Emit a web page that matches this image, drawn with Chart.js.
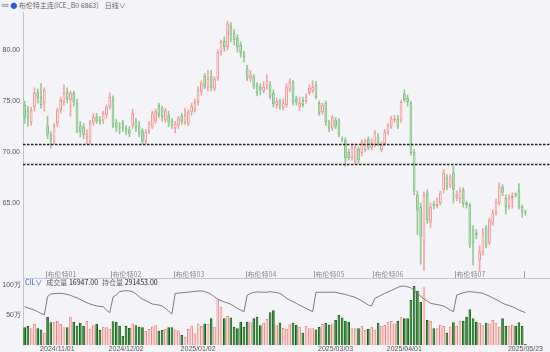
<!DOCTYPE html>
<html>
<head>
<meta charset="utf-8">
<script src="https://cdn.jsdelivr.net/npm/chart.js@4.4.1/dist/chart.umd.min.js"></script>
<style>
  body { margin: 0; width: 550px; height: 352px; overflow: hidden; position: relative;
         background: #f4f4f8; font-family: "Noto Sans CJK SC", sans-serif; }
  #head { position: absolute; left: 0; top: 0; width: 550px; height: 11px; line-height: 11px;
          font-size: 7px; color: #666; white-space: nowrap; }
  #head .dot { color: #2a5bd7; }
  #price { position: absolute; left: 0; top: 12px; }
  #vol { position: absolute; left: 0; top: 278px; }
  #sep { position: absolute; left: 23px; top: 278px; width: 527px; height: 1px; background: #c6c6ce; }
  #volLegend { position: absolute; left: 25px; top: 278px; height: 9px; line-height: 9px;
               font-size: 7px; color: #666; white-space: nowrap; }
  #volLegend .ind { color: #2a5bd7; margin-right: 4px; }
  #volLegend b { color: #222; font-weight: normal; margin-right: 4px; }
</style>
</head>
<body>
<div id="head">&nbsp;∞ <span class="dot">●</span> 布伦特主连(ICE_B0 6863)&nbsp;&nbsp;&nbsp; 日线∨</div>
<canvas id="price" width="550" height="266"></canvas>
<canvas id="vol" width="550" height="74"></canvas>
<div id="sep"></div>
<div id="volLegend"><span class="ind">CIL∨</span>成交量 <b id="vVal"></b>持仓量 <b id="oVal"></b></div>
<script>
// 布伦特主连 日线: OHLC, 成交量 / 持仓量 (万)

const holidays = ['2025/01/01', '2025/04/18'];
const emptySlots = 7;

const open = [
  74.6, 74.1, 72.9, 74.4, 75.9, 75.4, 74.8, 72.6, 71.7, 71.0,
  72.8, 74.1, 74.9, 75.9, 75.1, 75.8, 74.8, 72.6, 72.5, 71.4,
  71.0, 72.9, 73.5, 73.2, 73.1, 73.6, 74.4, 75.2, 72.9, 72.4,
  72.9, 72.4, 72.2, 72.6, 73.0, 72.6, 72.1, 71.0, 72.0, 72.5,
  73.0, 74.6, 74.3, 73.1, 73.6, 73.1, 72.3, 72.6, 73.6, 72.9,
  72.8, 73.9, 74.1, 74.9, 75.9, 77.5, 76.3, 77.4, 76.2, 77.2,
  79.8, 80.9, 80.3, 82.4, 81.7, 81.2, 80.5, 79.7, 78.2, 77.2,
  77.4, 76.6, 76.4, 76.0, 76.5, 76.6, 75.8, 74.6, 75.0, 74.3,
  74.6, 76.1, 76.9, 75.2, 74.4, 75.1, 75.0, 75.8, 76.0, 76.6,
  74.8, 73.9, 74.8, 72.9, 72.3, 73.2, 73.1, 71.3, 71.2, 70.0,
  69.4, 69.0, 70.3, 69.9, 70.2, 71.3, 70.4, 70.7, 71.5, 70.2,
  70.8, 71.9, 72.5, 73.1, 73.3, 73.1, 75.7, 75.3, 74.8, 70.0,
  65.8, 64.6, 61.2, 66.0, 63.1, 64.9, 64.7, 65.0, 66.3, 67.5,
  66.8, 68.0, 65.5, 65.4, 66.3, 65.0, 64.8, 62.4, 62.1, 59.4,
  60.2, 62.6, 61.1, 63.0, 64.0, 65.0, 66.6, 65.5, 64.6, 65.5,
  65.9, 66.3, 64.6, 64.1
];
const high = [
  75.0, 74.5, 74.4, 76.3, 76.2, 76.7, 76.3, 73.5, 72.0, 72.8,
  74.3, 75.4, 76.6, 76.3, 76.0, 76.0, 75.2, 73.0, 72.8, 72.2,
  73.1, 73.8, 73.8, 73.5, 74.0, 74.6, 75.8, 75.5, 73.2, 72.9,
  73.1, 72.6, 72.5, 74.2, 73.3, 73.0, 72.3, 72.2, 73.0, 74.0,
  74.2, 74.8, 74.5, 74.3, 74.0, 73.3, 73.0, 73.5, 73.8, 74.3,
  74.1, 74.8, 75.2, 76.4, 77.0, 77.7, 78.0, 78.0, 77.4, 80.0,
  81.0, 81.3, 82.8, 82.7, 82.0, 81.5, 80.8, 79.9, 78.5, 78.0,
  77.6, 76.8, 76.7, 76.9, 77.6, 76.9, 76.1, 75.3, 75.2, 75.2,
  76.7, 77.2, 77.0, 75.5, 75.4, 75.4, 75.7, 76.6, 77.0, 76.9,
  75.0, 74.8, 75.0, 73.1, 73.6, 73.4, 73.3, 71.5, 71.4, 70.3,
  70.8, 70.8, 70.5, 71.2, 71.3, 71.5, 71.3, 72.1, 71.8, 71.0,
  72.2, 72.8, 73.5, 73.6, 73.6, 75.1, 76.1, 75.6, 75.0, 70.3,
  66.2, 65.0, 66.1, 66.3, 65.0, 65.2, 65.5, 66.2, 68.3, 67.8,
  67.8, 68.6, 66.2, 66.5, 66.5, 65.2, 65.0, 62.8, 62.4, 60.8,
  62.5, 62.8, 63.5, 64.3, 65.4, 67.0, 66.8, 65.8, 65.8, 66.0,
  66.0, 66.9, 64.8, 64.3
];
const low = [
  72.8, 72.5, 72.6, 74.0, 74.8, 74.3, 74.0, 71.3, 70.4, 70.8,
  72.5, 73.8, 74.6, 74.8, 73.5, 74.5, 71.9, 71.5, 71.3, 70.8,
  70.8, 72.6, 72.8, 72.7, 72.8, 73.3, 74.2, 72.4, 72.0, 71.8,
  72.0, 71.7, 71.5, 72.3, 72.0, 71.5, 70.8, 70.8, 71.8, 72.3,
  72.8, 73.4, 73.0, 72.9, 72.5, 72.3, 71.9, 72.3, 72.7, 72.7,
  72.6, 73.6, 73.9, 74.6, 75.6, 76.2, 76.0, 76.0, 76.0, 77.0,
  79.5, 79.9, 80.0, 80.8, 80.5, 79.8, 79.3, 78.8, 77.0, 76.9,
  76.2, 75.5, 75.6, 75.8, 76.2, 75.2, 74.4, 74.3, 74.2, 74.1,
  74.4, 75.9, 74.6, 74.6, 74.1, 74.4, 74.8, 75.6, 75.8, 75.2,
  73.6, 73.7, 72.6, 72.0, 72.1, 72.3, 71.5, 71.0, 68.6, 69.2,
  69.2, 68.8, 68.9, 69.6, 70.0, 70.2, 70.2, 70.5, 70.6, 70.0,
  70.6, 71.7, 72.3, 72.9, 72.3, 72.9, 74.9, 74.5, 69.7, 65.8,
  61.9, 59.0, 58.4, 63.0, 62.6, 64.4, 64.5, 64.8, 66.0, 66.3,
  66.5, 65.0, 65.2, 65.0, 64.6, 64.5, 60.6, 58.9, 61.5, 58.4,
  59.9, 60.6, 60.9, 62.8, 63.8, 64.8, 65.7, 63.9, 64.4, 64.5,
  65.6, 64.4, 63.6, 63.8
];
const close = [
  73.4, 73.3, 74.1, 75.8, 75.3, 74.6, 76.1, 71.7, 71.2, 72.6,
  74.1, 75.1, 75.8, 75.2, 75.8, 74.9, 72.0, 72.0, 71.7, 71.8,
  72.9, 73.4, 73.0, 72.9, 73.8, 74.4, 75.4, 72.6, 72.4, 72.3,
  72.3, 72.0, 71.8, 73.8, 72.4, 71.8, 71.0, 72.0, 72.8, 73.8,
  74.0, 73.6, 73.4, 74.1, 72.9, 72.6, 72.8, 73.3, 73.0, 73.6,
  73.9, 74.5, 74.9, 76.1, 76.8, 76.4, 77.2, 76.3, 77.2, 79.8,
  80.8, 80.3, 82.6, 81.5, 81.0, 80.3, 79.7, 79.3, 77.2, 77.6,
  76.4, 75.8, 76.1, 76.4, 77.0, 75.4, 74.7, 75.0, 74.5, 74.8,
  76.4, 76.9, 74.9, 74.9, 74.8, 74.6, 75.4, 76.3, 76.4, 75.4,
  73.8, 74.6, 72.9, 72.3, 73.4, 72.5, 71.7, 71.2, 69.4, 69.4,
  70.5, 70.5, 69.2, 71.0, 71.1, 70.4, 70.9, 71.9, 70.9, 70.7,
  72.0, 72.6, 73.3, 73.3, 72.5, 74.9, 75.1, 74.9, 69.9, 66.1,
  64.3, 61.7, 65.8, 63.3, 64.6, 64.7, 64.9, 66.0, 68.0, 66.6,
  67.6, 66.3, 65.8, 66.2, 64.9, 64.8, 60.9, 61.1, 61.9, 60.2,
  62.1, 60.9, 63.3, 64.0, 65.1, 66.6, 66.0, 64.6, 65.5, 65.7,
  65.8, 64.6, 64.1, 64.0
];

// 成交量 (万手)
const volume = [
  29.5, 31.6, 27.8, 35, 28, 26, 20.6, 47, 37.8, 38.9,
  40, 35, 29.5, 29.5, 47, 38.9, 31.7, 37, 31.7, 40,
  26.7, 32.8, 35.6, 25.6, 30.6, 29.5, 27, 39.4, 38.3, 31.7,
  15.6, 31.7, 28.3, 36, 33, 30.5, 29.4, 23.3, 26.7, 31,
  33, 23.9, 25, 26.7, 29.4, 29.4, 26, 24, 16.7, 13.9,
  26.7, 32, 19.4, 36, 31.7, 36, 35, 44.4, 30.5, 76,
  63.9, 44.4, 48.3, 46, 30.5, 27.8, 38.9, 30.5, 38.9, 37.8,
  44.4, 47, 33, 37, 43.4,
  54.4, 57.8, 33, 37, 28.3, 27.2, 34.4, 37, 33.9, 30.5,
  20.6, 31.7, 27.8, 27.8, 26, 30, 35, 37, 33.9, 36,
  41.7, 50, 46, 40.6, 38.9, 27.8, 27.8, 27.8, 32.2, 25,
  26.7, 30.5, 26, 37, 32.2, 33.3, 38.9, 40, 36, 40,
  47, 44.4, 44.4, 75, 98.3, 90.6, 71.7, 96.1, 41.7, 40.6,
  27.8, 27.8, 33.9, 31.7, 20.6, 30.5, 37.8, 32.2, 40.6, 40,
  47, 59.4, 44.4, 38.9, 37, 32.8, 37, 36, 41.7, 37,
  30.5, 44.4, 31.7, 32.2, 34, 31.7, 37.8, 31.7, 1.6947
];

// 持仓量 (万手)
const openInterest = [
  34.5, 33.5, 32.5, 31.5, 30, 28.5, 27.1,
  43.6, 46, 46.3, 46.5, 46.6, 46.2, 45.5, 44.8, 43.5, 42.5,
  41, 39.5, 38.1, 37, 36, 35.2, 34.8, 34.5, 31.6, 29.1,
  43.2, 45, 48.1, 48.6, 49, 48.8, 48.1, 46, 43.5, 41.2,
  40, 38.5, 37, 36.5, 36, 35.2, 33, 30.5, 28,
  46.6, 46.8, 47.1, 47.4, 47.6, 48, 48.3, 48.6, 48.7, 48.2,
  47.2, 45.5, 43.5, 41.2, 40, 38.8, 37.8, 36.7, 35, 33, 31.5, 30,
  45, 46.5, 47.5, 47.8, 47.7, 47.6, 47.5, 48.1, 47.6, 47.2,
  46.6, 44.5, 42.1, 40.5, 39.2, 37.5, 36, 34.5, 33, 31.5, 30,
  47.5, 47.5, 47.6, 47.5, 47.5, 47.6, 47.5, 46.8, 46.2, 45.5,
  44.6, 43.8, 43, 41.5, 39.8, 38, 36, 35.2,
  42.1, 43.5, 45, 46.5, 47.8, 49.2, 50.5, 52, 53, 53.2,
  52.4, 51.6, 49, 46.5, 44, 41.5, 39.5, 37.6, 37, 36.5,
  35.8, 35.2, 33.5, 31.5, 30,
  45, 46.2, 47.2, 47.8, 48.1, 47.8, 47.4, 47, 46.6, 45.3,
  44, 42.5, 41, 39.5, 37.6, 36.5, 35.5, 34.5, 33.1, 31.5, 30.3, 29.1453
];

const priceTicks = [65, 70, 75, 80];
const volTicks = [50, 100];
const levels = [70.78, 68.82];
const dateTicks = ['2024/11/01', '2024/12/02', '2025/01/02', '2025/03/03', '2025/04/01', '2025/05/23'];
const rollIdx = [7, 27, 46, 68, 89, 107, 132, 153];
const rollNames = ['布伦特01', '布伦特02', '布伦特03', '布伦特04', '布伦特05', '布伦特06', '布伦特07', ''];

// trading days (weekdays minus exchange holidays), then a few blank slots on the right
const labels = [];
const pad = n => String(n).padStart(2, '0');
for (let d = new Date(2024, 9, 18); d <= new Date(2025, 4, 23); d.setDate(d.getDate() + 1)) {
  const wd = d.getDay();
  if (wd === 0 || wd === 6) continue;
  const s = `${d.getFullYear()}/${pad(d.getMonth() + 1)}/${pad(d.getDate())}`;
  if (!holidays.includes(s)) labels.push(s);
}
for (let k = 0; k < emptySlots; k++) labels.push('');

const up = open.map((o, i) => close[i] >= o);
const RED_EDGE = '#f09090', RED_FILL = '#fcf0f0', RED_WICK = '#f3a5a5';
const GRN_EDGE = '#82bf82', GRN_FILL = '#c0e0c0', GRN_WICK = '#94c894';

document.getElementById('vVal').textContent = (volume[volume.length - 1] * 10000).toFixed(2);
document.getElementById('oVal').textContent = (openInterest[openInterest.length - 1] * 10000).toFixed(2);

const tickFont = { size: 7, family: 'Liberation Sans' };

const overlay = {
  id: 'overlay',
  afterDatasetsDraw(chart) {
    const { ctx, chartArea: a, scales: { x, y } } = chart;
    ctx.save();
    ctx.strokeStyle = '#222';
    ctx.lineWidth = 1.3;
    ctx.setLineDash([2.5, 1.5]);
    levels.forEach(v => {
      const py = Math.round(y.getPixelForValue(v)) + 0.5;
      ctx.beginPath(); ctx.moveTo(a.left, py); ctx.lineTo(a.right, py); ctx.stroke();
    });
    ctx.setLineDash([]);
    // contract roll markers
    const half = (x.getPixelForValue(1) - x.getPixelForValue(0)) / 2;
    ctx.font = '7px "Noto Sans CJK SC"';
    ctx.fillStyle = '#8a8a8a';
    ctx.strokeStyle = '#a0a0a0';
    ctx.lineWidth = 1;
    ctx.textBaseline = 'middle';
    rollIdx.forEach((idx, k) => {
      const px = Math.round(x.getPixelForValue(idx) - half) + 0.5;
      ctx.beginPath(); ctx.moveTo(px, a.bottom - 7); ctx.lineTo(px, a.bottom); ctx.stroke();
      if (rollNames[k]) ctx.fillText(rollNames[k], px + 1, a.bottom - 3.5);
    });
    ctx.restore();
  }
};

new Chart(document.getElementById('price'), {
  type: 'bar',
  data: {
    labels,
    datasets: [
      { data: open.map((o, i) => [o, close[i]]), grouped: false,
        backgroundColor: up.map(u => u ? RED_FILL : GRN_FILL),
        borderColor: up.map(u => u ? RED_EDGE : GRN_EDGE),
        borderWidth: 1, borderSkipped: false, barPercentage: 0.85, categoryPercentage: 1 },
      { data: low.map((l, i) => [l, high[i]]), grouped: false,
        backgroundColor: up.map(u => u ? RED_WICK : GRN_WICK),
        borderWidth: 0, barThickness: 1 },
    ]
  },
  options: {
    responsive: false,
    animation: false,
    layout: { padding: 0 },
    plugins: { legend: { display: false }, tooltip: { enabled: false } },
    scales: {
      x: { display: false, offset: true },
      y: {
        min: 57.65, max: 83.73,
        afterBuildTicks: s => { s.ticks = priceTicks.map(v => ({ value: v })); },
        afterFit: s => { s.width = 23; s.paddingTop = 0; s.paddingBottom = 0; },
        grid: { display: false, drawTicks: false },
        border: { color: '#c4c4cc' },
        ticks: { font: tickFont, color: '#555', padding: 3, callback: v => v.toFixed(2) }
      }
    }
  },
  plugins: [overlay]
});

new Chart(document.getElementById('vol'), {
  data: {
    labels,
    datasets: [
      { type: 'line', data: openInterest, yAxisID: 'yo', borderColor: '#7a7a7a',
        borderWidth: 1, pointRadius: 0, tension: 0 },
      { type: 'bar', data: volume, yAxisID: 'yv',
        backgroundColor: up.map(u => u ? '#fadada' : '#137013'),
        borderColor: up.map(u => u ? '#ee8080' : '#0f600f'),
        borderWidth: 1, barPercentage: 0.82, categoryPercentage: 1 },
    ]
  },
  options: {
    responsive: false,
    animation: false,
    layout: { padding: 0 },
    plugins: { legend: { display: false }, tooltip: { enabled: false } },
    scales: {
      x: {
        offset: true,
        grid: { display: false, drawTicks: false },
        border: { display: false },
        afterFit: s => { s.height = 7; s.paddingLeft = 0; s.paddingRight = 0; },
        ticks: {
          autoSkip: false, maxRotation: 0, padding: 0, font: tickFont, color: '#555',
          callback(v) { const l = this.getLabelForValue(v); return dateTicks.includes(l) ? l : ''; }
        }
      },
      yv: {
        position: 'left', min: 0, max: 111.7,
        afterBuildTicks: s => { s.ticks = volTicks.map(v => ({ value: v })); },
        afterFit: s => { s.width = 23; s.paddingTop = 0; s.paddingBottom = 0; },
        grid: { display: false, drawTicks: false },
        border: { color: '#c4c4cc' },
        ticks: { font: tickFont, color: '#555', padding: 2, callback: v => v + '万' }
      },
      yo: { display: false, min: 0, max: 60.4 }
    }
  }
});
</script>
</body>
</html>
